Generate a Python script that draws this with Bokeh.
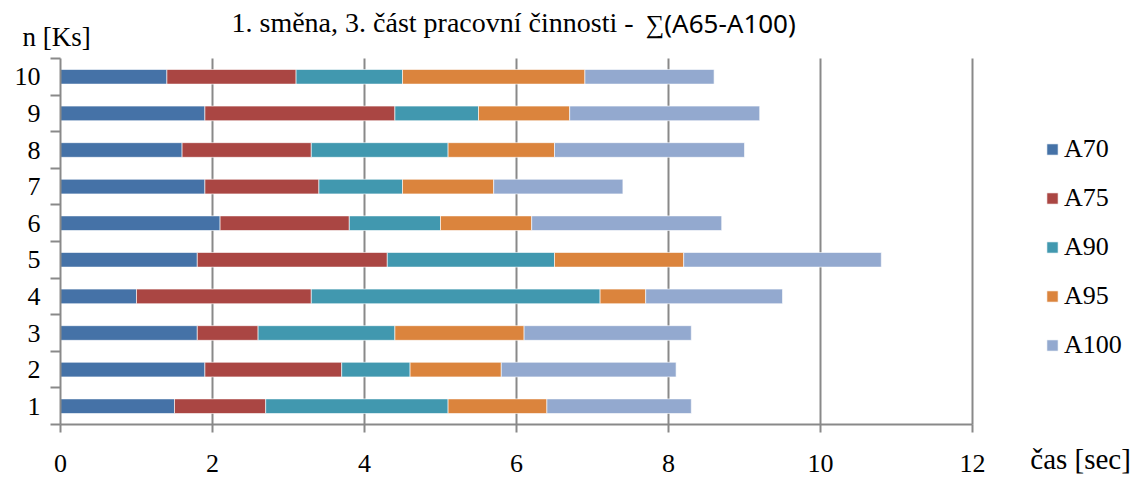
from bokeh.plotting import figure
from bokeh.models import ColumnDataSource, Range1d, FixedTicker, Legend, LegendItem, Label
from bokeh.embed import file_html
from bokeh.resources import INLINE

# Cycle numbers (n) and the time spent in each activity class per cycle [sec]
cycles = [1, 2, 3, 4, 5, 6, 7, 8, 9, 10]
a70 = [1.5, 1.9, 1.8, 1.0, 1.8, 2.1, 1.9, 1.6, 1.9, 1.4]
a75 = [1.2, 1.8, 0.8, 2.3, 2.5, 1.7, 1.5, 1.7, 2.5, 1.7]
a90 = [2.4, 0.9, 1.8, 3.8, 2.2, 1.2, 1.1, 1.8, 1.1, 1.4]
a95 = [1.3, 1.2, 1.7, 0.6, 1.7, 1.2, 1.2, 1.4, 1.2, 2.4]
a100 = [1.9, 2.3, 2.2, 1.8, 2.6, 2.5, 1.7, 2.5, 2.5, 1.7]

series = ["A70", "A75", "A90", "A95", "A100"]
colors = ["#4572A7", "#AA4643", "#4198AF", "#DB843D", "#93A9CF"]
x_ticks = [0, 2, 4, 6, 8, 10, 12]
grid_x = [2, 4, 6, 8, 10, 12]

title_main = "1. směna, 3. část pracovní činnosti - "
title_sum = "∑(A65-A100)"
y_title = "n [Ks]"
x_title = "čas [sec]"

source = ColumnDataSource(dict(n=cycles, A70=a70, A75=a75, A90=a90, A95=a95, A100=a100))

SERIF = "Liberation Serif"
GRAY = "#898989"

W, H = 1140, 477
PX_X = 76.0          # pixels per second
PX_Y = 36.6          # pixels per cycle row
ORIGIN_X, ORIGIN_Y = 60, 424   # pixel position of (0, 0.5)

# The plot area spans the whole canvas; the axes are pinned inside it so that
# the titles and the legend around the bars are drawn in the same area.
x_range = Range1d(-ORIGIN_X / PX_X, (W - ORIGIN_X) / PX_X)
y_range = Range1d(0.5 - (H - ORIGIN_Y) / PX_Y, 0.5 + ORIGIN_Y / PX_Y)

p = figure(width=W, height=H, x_range=x_range, y_range=y_range,
           output_backend="svg", toolbar_location=None,
           min_border=0, min_border_left=0, min_border_right=0,
           min_border_top=0, min_border_bottom=0)
p.title.visible = False
p.outline_line_color = None
p.background_fill_color = "white"
p.border_fill_color = "white"
p.xgrid.visible = False
p.ygrid.visible = False

# vertical grid lines, from the bottom row boundary to the top one
p.segment(x0=grid_x, x1=grid_x, y0=[0.5] * len(grid_x), y1=[10.5] * len(grid_x),
          line_color=GRAY, line_width=2)

renderers = p.hbar_stack(series, y="n", height=0.4, source=source,
                         fill_color=colors, line_color="white",
                         line_alpha=0.6, line_width=1)

# x axis
xa = p.xaxis[0]
xa.fixed_location = 0.5
xa.bounds = (0, 12)
xa.ticker = FixedTicker(ticks=x_ticks)
xa.axis_line_color = GRAY
xa.axis_line_width = 2
xa.major_tick_line_color = GRAY
xa.major_tick_line_width = 2
xa.major_tick_out = 8
xa.major_tick_in = 0
xa.minor_tick_line_color = None
xa.major_label_standoff = 22
xa.major_label_text_font = SERIF
xa.major_label_text_font_size = "26px"
xa.major_label_text_color = "black"

# y axis: labels on the cycles, tick marks between them
ya = p.yaxis[0]
ya.fixed_location = 0
ya.bounds = (0.5, 10.5)
ya.ticker = FixedTicker(ticks=cycles, minor_ticks=[c - 0.5 for c in cycles] + [10.5])
ya.axis_line_color = GRAY
ya.axis_line_width = 2
ya.major_tick_line_color = None
ya.major_tick_out = 10
ya.major_tick_in = 0
ya.minor_tick_line_color = GRAY
ya.minor_tick_line_width = 2
ya.minor_tick_out = 10
ya.minor_tick_in = 0
ya.major_label_standoff = 10
ya.major_label_text_font = SERIF
ya.major_label_text_font_size = "26px"
ya.major_label_text_color = "black"

# legend to the right of the bars
legend = Legend(items=[LegendItem(label=s, renderers=[r]) for s, r in zip(series, renderers)],
                location=(1045, 117), orientation="vertical",
                glyph_width=14, glyph_height=14, label_standoff=5,
                spacing=19, padding=0, margin=0,
                border_line_color=None, background_fill_alpha=0,
                label_text_font=SERIF, label_text_font_size="26px",
                label_text_color="black", label_height=26)
p.add_layout(legend)

# titles
p.add_layout(Label(x=2.25, y=11.47, text=title_main, text_font=SERIF,
                   text_font_size="28px", text_baseline="middle", text_align="left",
                   text_color="black"))
p.add_layout(Label(x=7.70, y=11.47, text=title_sum, text_font="Noto Sans",
                   text_font_size="26px", text_baseline="middle", text_align="left",
                   text_color="black"))
p.add_layout(Label(x=-0.5, y=11.10, text=y_title, text_font=SERIF,
                   text_font_size="27px", text_baseline="middle", text_align="left",
                   text_color="black"))
p.add_layout(Label(x=12.76, y=-0.43, text=x_title, text_font=SERIF,
                   text_font_size="29px", text_baseline="middle", text_align="left",
                   text_color="black"))

open("out.html", "w").write(file_html(p, INLINE))
